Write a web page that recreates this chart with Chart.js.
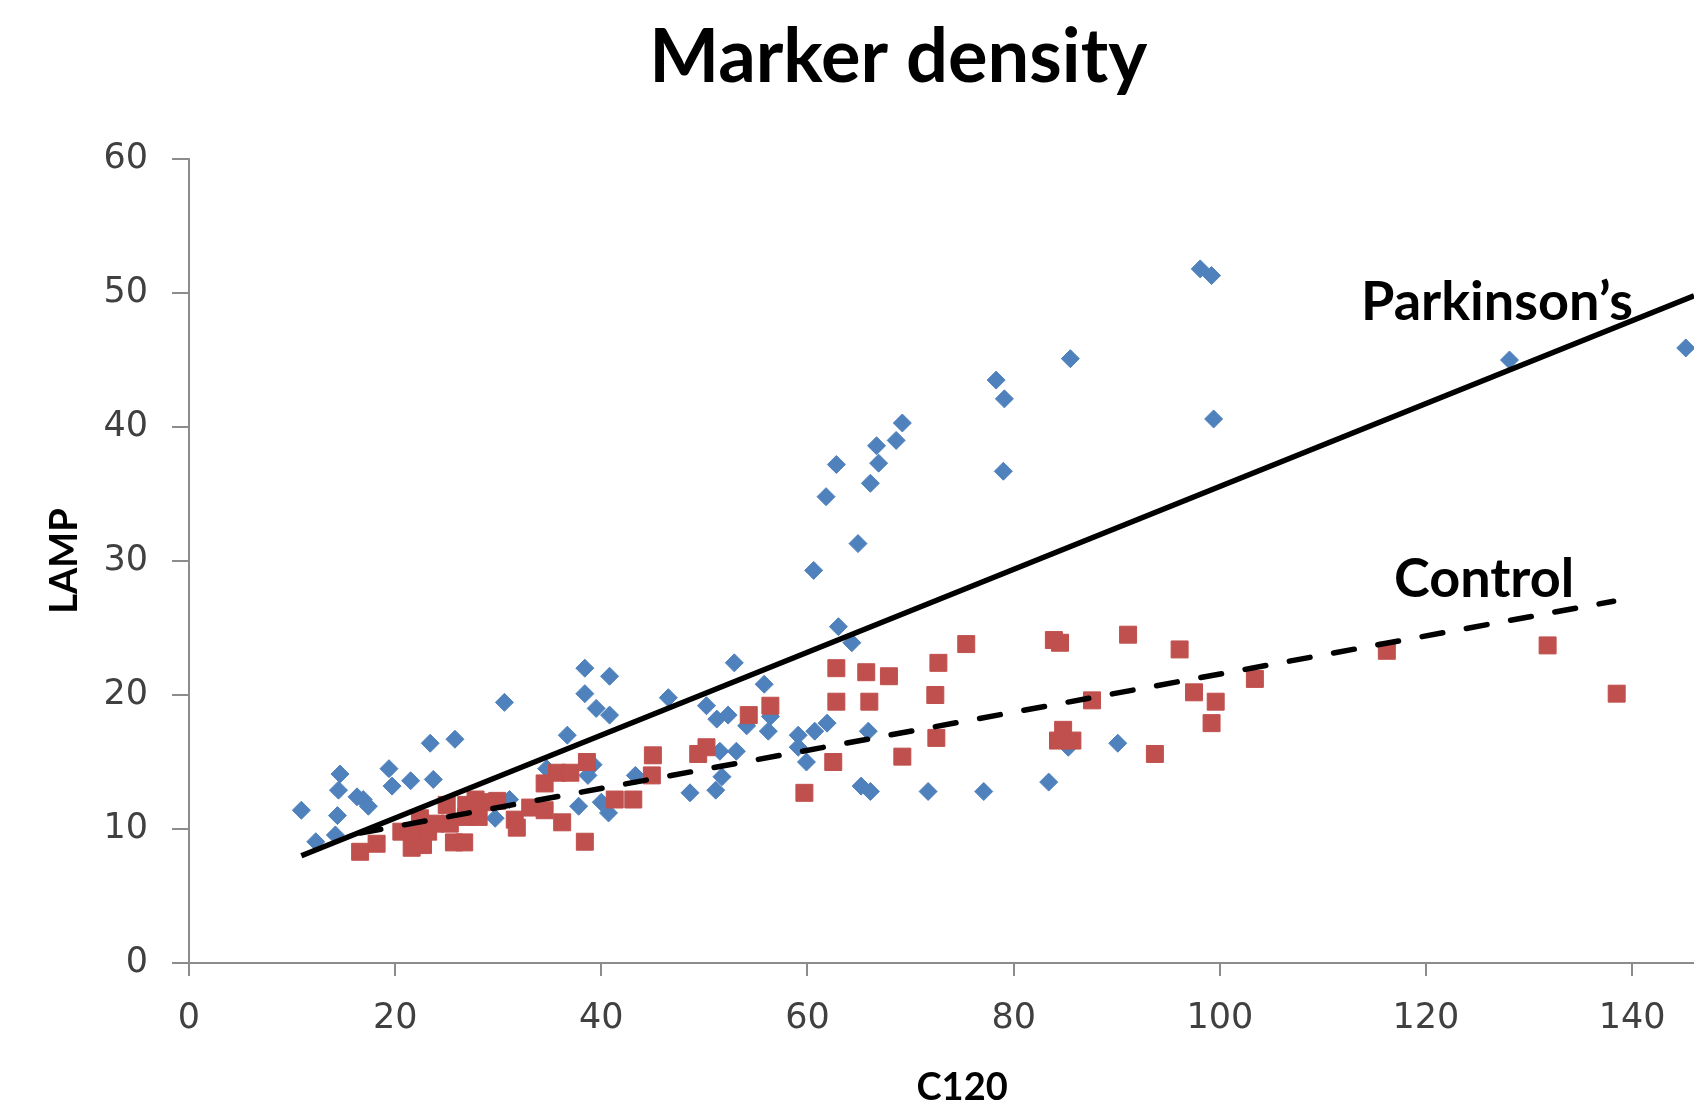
<!DOCTYPE html>
<html>
<head>
<meta charset="utf-8">
<script src="https://cdn.jsdelivr.net/npm/chart.js@4.4.0/dist/chart.umd.min.js"></script>
<style>
html, body { margin: 0; padding: 0; background: #fff; }
#wrap { width: 1694px; height: 1106px; }
</style>
</head>
<body>
<div id="wrap"><canvas id="chart"></canvas></div>
<script>
// axis ticks
var xTicks = [0, 20, 40, 60, 80, 100, 120, 140];

// Parkinson's (blue diamonds)
var parkX = [10.9, 12.3, 14.2, 14.4, 14.5, 14.65, 16.3, 16.9, 17.4, 19.4, 19.7, 21.5, 23.4, 23.7, 25.8,
    29.7, 30.6, 31.1, 34.7, 36.7, 37.8, 38.4, 38.4, 38.7, 39.2, 39.5, 40.0, 40.7, 40.8, 40.8, 43.3, 46.5, 48.6,
    50.2, 51.1, 51.2, 51.5, 51.7, 52.3, 52.9, 53.1, 54.1, 55.8, 56.4, 56.2, 59.1, 59.1, 59.9, 60.7, 61.9,
    63.0, 64.3, 65.9, 65.2, 66.1, 60.6, 61.8, 62.8, 64.9, 66.1, 66.7, 66.9, 68.6, 69.2,
    71.7, 77.1, 78.3, 79.1, 79.0, 83.4, 85.3, 85.5, 90.1, 98.1, 99.2, 99.4, 128.1, 145.2];
var parkY = [11.4, 9.05, 9.55, 11.0, 12.9, 14.1, 12.4, 12.2, 11.7, 14.5, 13.2, 13.6, 16.4, 13.7, 16.7,
    10.8, 19.45, 12.2, 14.5, 17.0, 11.7, 22.0, 20.1, 14.0, 14.8, 19.0, 12.0, 11.2, 21.4, 18.5, 14.0, 19.8, 12.7,
    19.2, 12.9, 18.2, 15.8, 13.9, 18.5, 22.4, 15.8, 17.7, 20.8, 18.4, 17.3, 17.0, 16.1, 15.0, 17.3, 17.9,
    25.1, 23.9, 17.3, 13.2, 12.8, 29.3, 34.8, 37.2, 31.3, 35.8, 38.6, 37.3, 39.0, 40.3,
    12.8, 12.8, 43.5, 42.1, 36.7, 13.5, 16.1, 45.1, 16.4, 51.8, 51.3, 40.6, 45.0, 45.9];

// Control (red squares)
var ctrlX = [16.6, 18.2, 20.6, 21.6, 21.7, 22.4, 22.7, 23.2, 23.9, 25.0, 25.3, 25.7, 26.7, 26.9, 26.9,
    27.8, 28.1, 28.7, 29.9, 31.6, 31.8, 33.1, 34.5, 34.5, 35.7, 36.2, 37.0, 38.4, 38.6, 41.3, 43.1, 44.9, 45.0,
    49.4, 50.2, 54.3, 56.4, 59.7, 62.5, 62.8, 62.8, 65.7, 66.0, 67.9, 69.2, 72.4, 72.5, 72.7, 75.4,
    83.9, 84.5, 84.3, 84.8, 85.7, 87.6, 91.1, 93.7, 96.1, 97.5, 99.2, 99.6, 103.4, 116.2, 131.8, 138.5];
var ctrlY = [8.3, 8.9, 9.8, 8.6, 9.8, 10.8, 8.8, 9.8, 10.4, 11.8, 10.4, 9.0, 9.0, 10.9, 11.8,
    12.2, 10.9, 12.0, 12.1, 10.7, 10.1, 11.6, 11.4, 13.4, 14.2, 10.5, 14.2, 9.05, 15.0, 12.2, 12.2, 14.0, 15.5,
    15.6, 16.1, 18.5, 19.2, 12.7, 15.0, 22.0, 19.5, 21.7, 19.5, 21.4, 15.4, 20.0, 16.8, 22.4, 23.8,
    24.1, 23.9, 16.6, 17.4, 16.6, 19.6, 24.5, 15.6, 23.4, 20.2, 17.9, 19.5, 21.2, 23.3, 23.7, 20.1];

// linear trendline end points
var parkTrendX = [10.9, 146];
var parkTrendY = [8.0, 49.8];
var ctrlTrendX = [16.6, 138.2];
var ctrlTrendY = [9.7, 27.0];

// line labels, in data units (left edge, baseline)
var lineLabels = [
    { text: 'Parkinson\u2019s', x: 113.7, y: 48.0 },
    { text: 'Control', x: 116.9, y: 27.3 }
];

function pts(xs, ys) {
    return xs.map(function (x, i) { return { x: x, y: ys[i] }; });
}

var axisGray = '#8c8c8c';
var tickFont = { family: 'DejaVu Sans', size: 35 };

// title, x axis title and the two line labels
var textPlugin = {
    id: 'texts',
    afterDraw: function (chart) {
        var ctx = chart.ctx, xs = chart.scales.x, ys = chart.scales.y;
        ctx.save();
        ctx.fillStyle = '#000';
        ctx.textBaseline = 'alphabetic';

        ctx.font = 'bold 74px Lato';
        ctx.textAlign = 'center';
        ctx.fillText('Marker density', xs.getPixelForValue(68.8), 82);

        ctx.font = 'bold 38px Lato';
        ctx.fillText('C120', xs.getPixelForValue(75), 1100);

        ctx.font = 'bold 54px Lato';
        ctx.textAlign = 'left';
        lineLabels.forEach(function (l) {
            ctx.fillText(l.text, xs.getPixelForValue(l.x), ys.getPixelForValue(l.y));
        });
        ctx.restore();
    }
};

var ctx1 = document.getElementById('chart').getContext('2d');
var chart = new Chart(ctx1, {
    type: 'scatter',
    data: {
        datasets: [{
            type: 'line',
            label: 'Parkinson\u2019s trend',
            data: pts(parkTrendX, parkTrendY),
            borderColor: '#000',
            borderWidth: 5.5,
            pointRadius: 0,
            fill: false,
            order: 0
        }, {
            type: 'line',
            label: 'Control trend',
            data: pts(ctrlTrendX, ctrlTrendY),
            borderColor: '#000',
            borderWidth: 5.5,
            borderDash: [21, 24],
            borderCapStyle: 'round',
            pointRadius: 0,
            fill: false,
            order: 0
        }, {
            label: 'Control',
            data: pts(ctrlX, ctrlY),
            pointStyle: 'rect',
            pointRadius: 12,
            pointBackgroundColor: '#c0504d',
            pointBorderColor: '#c0504d',
            pointBorderWidth: 1,
            order: 1
        }, {
            label: 'Parkinson\u2019s',
            data: pts(parkX, parkY),
            pointStyle: 'rectRot',
            pointRadius: 9,
            pointBackgroundColor: '#4f81bd',
            pointBorderColor: '#4f81bd',
            pointBorderWidth: 1,
            order: 2
        }]
    },
    options: {
        responsive: true,
        maintainAspectRatio: false,
        animation: false,
        layout: { autoPadding: false, padding: { top: 159, left: 0, right: 0, bottom: 0 } },
        plugins: {
            legend: { display: false },
            tooltip: { enabled: false },
            title: { display: false }
        },
        scales: {
            x: {
                type: 'linear',
                min: 0,
                max: 146,
                afterBuildTicks: function (scale) {
                    scale.ticks = xTicks.map(function (v) { return { value: v }; });
                },
                afterFit: function (scale) {
                    scale.height = 143;
                    scale.paddingLeft = 0;
                    scale.paddingRight = 0;
                },
                grid: { drawOnChartArea: false, drawTicks: true, tickLength: 13, color: axisGray, lineWidth: 2 },
                border: { display: true, color: axisGray, width: 2 },
                ticks: { color: '#404040', font: tickFont, padding: 22, maxRotation: 0 }
            },
            y: {
                type: 'linear',
                min: 0,
                max: 60,
                afterFit: function (scale) {
                    scale.width = 189;
                    scale.paddingTop = 0;
                    scale.paddingBottom = 0;
                },
                grid: { drawOnChartArea: false, drawTicks: true, tickLength: 17, color: axisGray, lineWidth: 2 },
                border: { display: true, color: axisGray, width: 2 },
                ticks: { stepSize: 10, color: '#404040', font: tickFont, padding: 24 },
                title: {
                    display: true,
                    text: 'LAMP',
                    color: '#000',
                    font: { family: 'Lato', size: 38, weight: 'bold', lineHeight: 1 },
                    padding: { top: 46, bottom: 0 }
                }
            }
        }
    },
    plugins: [textPlugin]
});
</script>
</body>
</html>
